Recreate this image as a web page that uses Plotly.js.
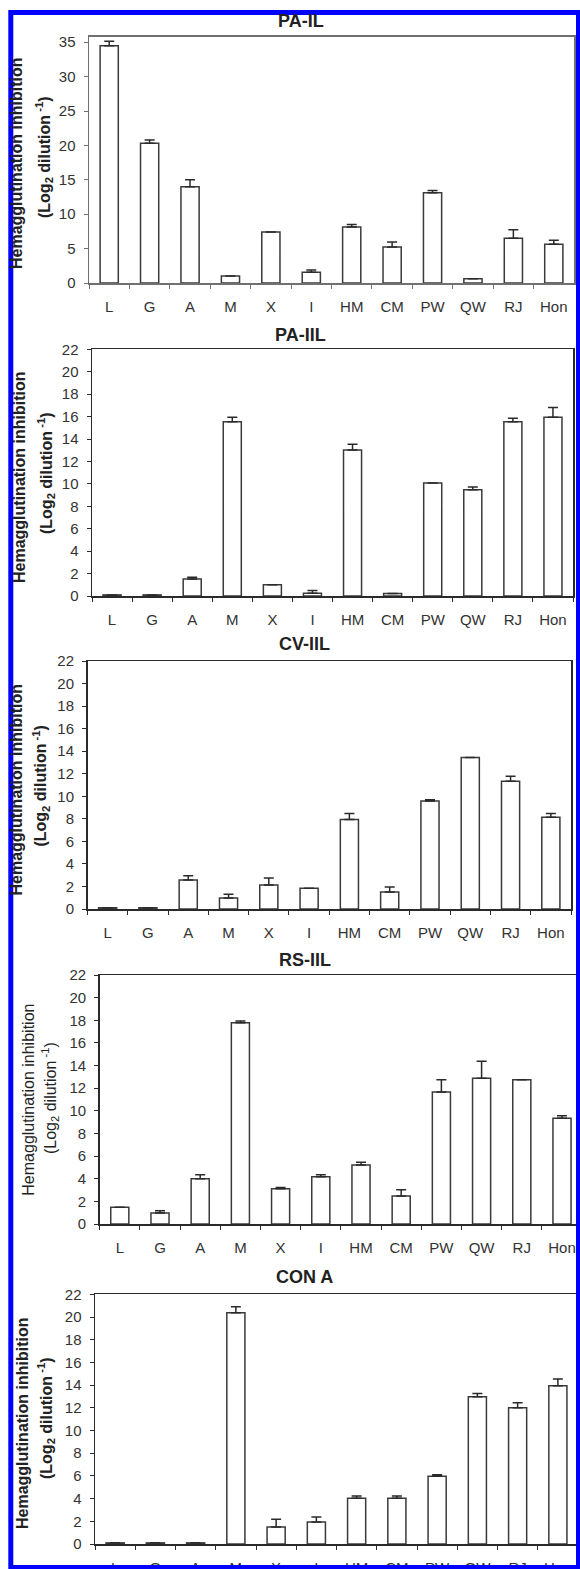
<!DOCTYPE html>
<html>
<head>
<meta charset="utf-8">
<script src="https://cdn.plot.ly/plotly-3.0.1.min.js"></script>
<style>html,body{margin:0;padding:0;background:#fff;}#chart{width:580px;height:1569px;}</style>
</head>
<body>
<div id="chart"></div>
<script>
// ---- data ----
const categories = ['L','G','A','M','X','I','HM','CM','PW','QW','RJ','Hon'];
const panelTitles = ['PA-IL','PA-IIL','CV-IIL','RS-IIL','CON A'];

const paIL      = [34.5, 20.3, 14.0, 1.0, 7.4, 1.55, 8.15, 5.25, 13.1, 0.6, 6.5, 5.65];
const paILErr   = [0.65, 0.5, 1.0, 0, 0, 0.35, 0.35, 0.7, 0.35, 0, 1.25, 0.55];
const paIIL     = [0.1, 0.1, 1.52, 15.53, 1.0, 0.24, 13.03, 0.22, 10.07, 9.48, 15.53, 15.95];
const paIILErr  = [0, 0, 0.15, 0.42, 0, 0.24, 0.5, 0, 0, 0.24, 0.33, 0.86];
const cvIIL     = [0.1, 0.1, 2.57, 0.97, 2.13, 1.83, 7.94, 1.5, 9.57, 13.44, 11.34, 8.15];
const cvIILErr  = [0, 0, 0.38, 0.33, 0.62, 0, 0.53, 0.45, 0.12, 0, 0.44, 0.33];
const rsIIL     = [1.47, 0.97, 4.0, 17.79, 3.12, 4.18, 5.21, 2.47, 11.66, 12.87, 12.75, 9.34];
const rsIILErr  = [0, 0.2, 0.35, 0.15, 0.1, 0.18, 0.24, 0.56, 1.09, 1.5, 0, 0.23];
const conA      = [0.1, 0.1, 0.1, 20.38, 1.5, 1.94, 4.02, 4.02, 5.96, 12.98, 12.01, 13.95];
const conAErr   = [0, 0, 0, 0.53, 0.67, 0.44, 0.2, 0.2, 0.15, 0.27, 0.44, 0.59];

const yTitle1 = 'Hemagglutination inhibition';
const yTitle2 = '(Log<sub>2</sub> dilution<sup> -1</sup>)';

// ---- layout geometry (pixels) ----
const W = 580, H = 1569;
const fx = px => px / W;
const fy = py => 1 - py / H;
const FONT = 'Liberation Sans, Arial, Helvetica, sans-serif';

const series = [
  {y: paIL,  e: paILErr},
  {y: paIIL, e: paIILErr},
  {y: cvIIL, e: cvIILErr},
  {y: rsIIL, e: rsIILErr},
  {y: conA,  e: conAErr}
];
const geo = [
  {l:89,   r:574, xend:11.5,   t:36.7,  b:283,  ymax:35.8, dtick:5, lc:'#707070', tx:300.5, ty:20.7, h1x:17,   h1y:163,  h2x:44,   h2y:158,  bold:true},
  {l:92,   r:573, xend:11.5,   t:349.3, b:596,  ymax:22,   dtick:2, lc:'#2a2a2a', tx:300,   ty:335,  h1x:20,   h1y:477,  h2x:46,   h2y:474,  bold:true},
  {l:87.5, r:571, xend:11.5,   t:661,   b:909,  ymax:22,   dtick:2, lc:'#2a2a2a', tx:304.5, ty:644,  h1x:15.5, h1y:790,  h2x:40.6, h2y:786,  bold:true},
  {l:99.7, r:580, xend:11.448, t:975,   b:1224, ymax:22,   dtick:2, lc:'#2a2a2a', tx:304.5, ty:960,  h1x:27.7, h1y:1100, h2x:50,   h2y:1098, bold:false},
  {l:95,   r:578, xend:11.5,   t:1294.3,b:1544, ymax:22,   dtick:2, lc:'#2a2a2a', tx:304.5, ty:1277, h1x:22,   h1y:1423, h2x:46,   h2y:1419, bold:true}
];

const data = [];
const layout = {
  width: W, height: H,
  margin: {l:0, r:0, t:0, b:0, pad:0},
  paper_bgcolor: '#fff', plot_bgcolor: '#fff',
  showlegend: false,
  font: {family: FONT, color: '#333', size: 15},
  bargap: 0.55,
  annotations: [],
  shapes: []
};

series.forEach((s, i) => {
  const g = geo[i];
  const n = i === 0 ? '' : String(i + 1);
  data.push({
    type: 'bar',
    x: categories, y: s.y,
    xaxis: 'x' + n, yaxis: 'y' + n,
    width: 0.45,
    marker: {color: '#ffffff', line: {color: '#3a3a3a', width: 1.5}},
    error_y: {type: 'data', symmetric: false, array: s.e, arrayminus: s.e.map(() => 0),
              color: '#2a2a2a', thickness: 1.5, width: 5},
    hoverinfo: 'x+y'
  });
  layout['xaxis' + n] = {
    domain: [fx(g.l), fx(g.r)],
    anchor: 'y' + n,
    type: 'category',
    range: [-0.5, g.xend],
    showline: true, linecolor: g.lc, linewidth: 1.5, mirror: true,
    ticks: 'outside', ticklen: 4, tickcolor: g.lc, tickwidth: 1,
    tickson: 'boundaries',
    ticklabelstandoff: 9,
    showgrid: false, zeroline: false,
    tickfont: {family: FONT, size: 15, color: '#333'},
    fixedrange: true
  };
  layout['yaxis' + n] = {
    domain: [fy(g.b), fy(g.t)],
    anchor: 'x' + n,
    range: [0, g.ymax],
    dtick: g.dtick, tick0: 0,
    showline: true, linecolor: g.lc, linewidth: 1.5, mirror: true,
    ticks: 'outside', ticklen: 4, tickcolor: g.lc, tickwidth: 1,
    ticklabelstandoff: 5,
    showgrid: false, zeroline: false,
    tickfont: {family: FONT, size: 15, color: '#333'},
    fixedrange: true
  };
  const wt = g.bold ? 'bold' : 'normal';
  layout.annotations.push(
    {xref:'paper', yref:'paper', x: fx(g.tx), y: fy(g.ty), xanchor:'center', yanchor:'middle',
     text: panelTitles[i], showarrow:false, font:{family:FONT, size:18, color:'#222', weight:'bold'}},
    {xref:'paper', yref:'paper', x: fx(g.h1x), y: fy(g.h1y), xanchor:'center', yanchor:'middle',
     text: yTitle1, textangle:-90, showarrow:false, font:{family:FONT, size:16, color:'#222', weight:wt}},
    {xref:'paper', yref:'paper', x: fx(g.h2x), y: fy(g.h2y), xanchor:'center', yanchor:'middle',
     text: yTitle2, textangle:-90, showarrow:false, font:{family:FONT, size:16, color:'#222', weight:wt}}
  );
});

// blue frame
layout.shapes.push({type:'rect', xref:'paper', yref:'paper', layer:'above',
  x0: fx(10.8), x1: fx(578.5), y0: fy(1567.5), y1: fy(12.5),
  line:{color:'#0000ff', width:5}, fillcolor:'rgba(0,0,0,0)'});

Plotly.newPlot('chart', data, layout, {displayModeBar:false, staticPlot:true});
</script>
</body>
</html>
